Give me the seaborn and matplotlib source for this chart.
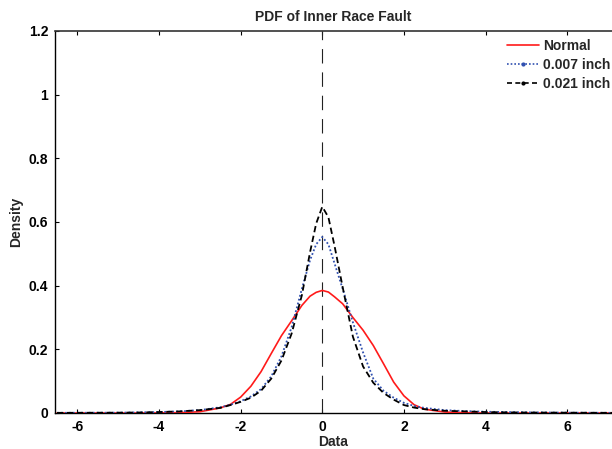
import matplotlib
matplotlib.use("Agg")
import matplotlib.pyplot as plt
from matplotlib.lines import Line2D
import seaborn as sns
import pandas as pd

# ---- data ----
x_grid = [-6.5, -5, -4.5, -4, -3.5, -3, -2.5, -2.25, -2, -1.75, -1.5, -1.25, -1,
          -0.75, -0.5, -0.3, -0.15, 0, 0.15, 0.3, 0.5, 0.75, 1, 1.25, 1.5, 1.75,
          2, 2.25, 2.5, 3, 3.5, 4, 4.5, 5, 6, 7.1]

normal = [0, 0, 0, 0.0005, 0.001, 0.004, 0.016, 0.027, 0.05, 0.084, 0.13, 0.187, 0.243,
          0.29, 0.338, 0.367, 0.379, 0.385, 0.38, 0.365, 0.343, 0.30, 0.26, 0.212, 0.155, 0.097,
          0.054, 0.026, 0.012, 0.003, 0.001, 0, 0, 0, 0, 0]

inch_007 = [0.0005, 0.001, 0.002, 0.003, 0.005, 0.009, 0.018, 0.026, 0.037, 0.052, 0.075, 0.115, 0.178,
            0.27, 0.39, 0.48, 0.53, 0.553, 0.53, 0.47, 0.39, 0.285, 0.19, 0.108, 0.07, 0.048,
            0.032, 0.022, 0.016, 0.009, 0.006, 0.004, 0.003, 0.002, 0.001, 0.0005]

inch_021 = [0.0005, 0.001, 0.0015, 0.003, 0.005, 0.009, 0.016, 0.025, 0.035, 0.048, 0.07, 0.108, 0.165,
            0.25, 0.37, 0.505, 0.595, 0.648, 0.615, 0.525, 0.395, 0.24, 0.146, 0.095, 0.063, 0.042,
            0.025, 0.017, 0.012, 0.007, 0.005, 0.003, 0.002, 0.0015, 0.001, 0.0005]

series_labels = ["Normal", "0.007 inch", "0.021 inch"]
x_ticks = [-6, -4, -2, 0, 2, 4, 6]
y_ticks = [0, 0.2, 0.4, 0.6, 0.8, 1.0, 1.2]
y_tick_labels = ["0", "0.2", "0.4", "0.6", "0.8", "1", "1.2"]

sns.set_theme(style="white")
plt.rcParams["font.family"] = ["Liberation Sans", "DejaVu Sans"]
plt.rcParams["font.weight"] = "bold"

fig = plt.figure(figsize=(6.12, 4.49), dpi=100)
W, H = 612, 449
ax = fig.add_axes([55 / W, (H - 413) / H, (W - 55) / W, (413 - 31) / H])

df = pd.DataFrame({"x": x_grid, "Normal": normal, "0.007 inch": inch_007, "0.021 inch": inch_021})

# vertical reference line at 0
ax.axvline(0, color="#222222", lw=0.8, ls=(0, (13, 8)), zorder=1)

sns.lineplot(data=df, x="x", y="Normal", ax=ax, color="#ff1a1a", lw=1.2,
             linestyle="-", legend=False, zorder=3)
sns.lineplot(data=df, x="x", y="0.007 inch", ax=ax, color="#3050b0", lw=1.3,
             linestyle=(0, (1, 1.2)), legend=False, zorder=4)
sns.lineplot(data=df, x="x", y="0.021 inch", ax=ax, color="black", lw=1.3,
             linestyle=(0, (3.5, 2)), legend=False, zorder=5)

ax.set_xlim(-6.55, 7.1)
ax.set_ylim(0, 1.2)
ax.set_xticks(x_ticks)
ax.set_xticklabels([str(t) for t in x_ticks])
ax.set_yticks(y_ticks)
ax.set_yticklabels(y_tick_labels)
ax.tick_params(axis="both", direction="in", length=3, width=0.8, labelsize=10,
               pad=5, top=True, right=False, bottom=True, left=True, colors="black")
for lab in ax.get_xticklabels() + ax.get_yticklabels():
    lab.set_fontweight("bold")

for side in ["left", "bottom"]:
    ax.spines[side].set_color("black")
    ax.spines[side].set_linewidth(1.0)
ax.spines["top"].set_color("#333333")
ax.spines["top"].set_linewidth(1.2)
ax.spines["right"].set_visible(False)

ax.set_xlabel("Data", fontsize=10, fontweight="bold", labelpad=1)
ax.set_ylabel("Density", fontsize=10, fontweight="bold", labelpad=4)
ax.set_title("PDF of Inner Race Fault", fontsize=10, fontweight="bold", pad=7)

handles = [
    Line2D([], [], color="#ff1a1a", lw=1.2, ls="-"),
    Line2D([], [], color="#3050b0", lw=1.2, ls=(0, (1, 1.2)), marker=".", markersize=4),
    Line2D([], [], color="black", lw=1.2, ls=(0, (3, 2)), marker=".", markersize=4),
]
leg = fig.legend(handles, series_labels, loc="upper left",
                 bbox_to_anchor=(507 / W, 1 - 39 / H), bbox_transform=fig.transFigure,
                 frameon=False, fontsize=10, handlelength=2.3, handletextpad=0.3,
                 labelspacing=0.35, borderpad=0, borderaxespad=0)
for t in leg.get_texts():
    t.set_fontweight("bold")

fig.savefig("out.png", dpi=100)
